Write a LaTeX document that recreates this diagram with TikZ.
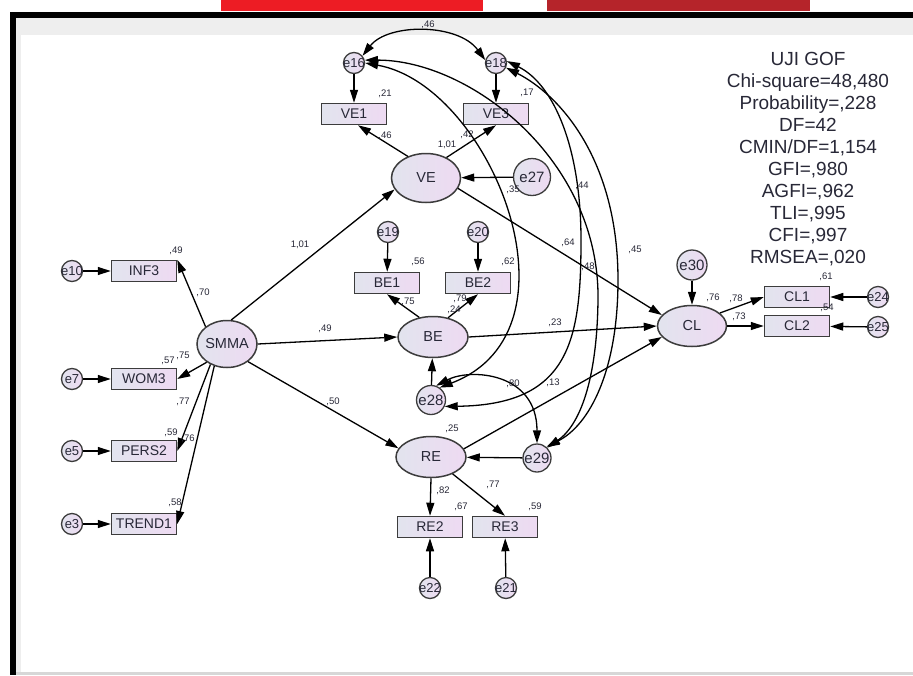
\documentclass[tikz,border=0pt]{standalone}
\usepackage{fontspec}
\setmainfont{Liberation Sans}
\usetikzlibrary{arrows.meta,shapes.geometric}

\definecolor{lft}{RGB}{226,228,238}
\definecolor{rgt}{RGB}{238,218,242}
\definecolor{edgec}{RGB}{60,60,60}
\definecolor{txt}{RGB}{40,40,55}
\definecolor{redA}{RGB}{237,28,36}
\definecolor{redB}{RGB}{181,36,42}
\definecolor{grayA}{RGB}{238,238,238}
\definecolor{grayB}{RGB}{215,215,215}

\tikzset{
  obs/.style={draw=edgec, line width=1.5pt, left color=lft, right color=rgt,
    minimum width=65pt, minimum height=21pt, inner sep=0pt,
    font=\fontsize{14}{14}\selectfont, text=txt},
  lat/.style={ellipse, draw=edgec, line width=1.5pt, left color=lft, right color=rgt,
    inner sep=-3pt, font=\fontsize{14.5}{14}\selectfont, text=txt},
  err/.style={circle, draw=edgec, line width=1.3pt, left color=lft, right color=rgt,
    minimum size=21pt, inner sep=-4pt, font=\fontsize{13}{13}\selectfont, text=txt},
  errb/.style={err, font=\fontsize{15}{15}\selectfont},
  arr/.style={-{Triangle[length=13pt,width=8pt]}, line width=1.3pt, draw=black},
  cov/.style={{Triangle[length=13pt,width=8pt]}-{Triangle[length=13pt,width=8pt]}, line width=1.3pt, draw=black},
  lab/.style={font=\fontsize{9.5}{10}\selectfont, text=txt, inner sep=0pt},
}

\begin{document}
\begin{tikzpicture}[x=1pt,y=-1pt]
\useasboundingbox (0,0) rectangle (913,675);
% frame
\fill[white] (0,0) rectangle (913,675);
\fill[redA] (221,0) rectangle (483,11);
\fill[redB] (547,0) rectangle (810,11);
\fill[black] (10,12) rectangle (913,18);
\fill[black] (10,12) rectangle (16,675);
\fill[grayA] (16,18) rectangle (913,35);
\fill[grayA] (16,18) rectangle (21,672);
\fill[grayB] (16,672) rectangle (913,675);

% observed / error nodes, left
\node[err] (e10) at (72,271) {e10};
\node[obs] (INF3) at (144,271) {INF3};
\node[err] (e7) at (72,379) {e7};
\node[obs] (WOM3) at (144,379) {WOM3};
\node[err] (e5) at (72,451) {e5};
\node[obs] (PERS2) at (144,451) {PERS2};
\node[err] (e3) at (72,524) {e3};
\node[obs] (TREND1) at (144,524) {TREND1};
\node[lat, minimum width=60pt, minimum height=47pt] (SMMA) at (227,344) {SMMA};

% VE block
\node[err] (e16) at (354,63) {e16};
\node[err] (e18) at (496,63) {e18};
\node[obs] (VE1) at (354,114) {VE1};
\node[obs] (VE3) at (496,114) {VE3};
\node[lat, minimum width=69pt, minimum height=49pt] (VE) at (426,178) {VE};
\node[errb, minimum size=37pt] (e27) at (532,177) {e27};

% BE block
\node[err] (e19) at (388,232) {e19};
\node[err] (e20) at (478,232) {e20};
\node[obs] (BE1) at (387,283) {BE1};
\node[obs] (BE2) at (478,283) {BE2};
\node[lat, minimum width=70pt, minimum height=41pt] (BE) at (433,337) {BE};
\node[errb, minimum size=29pt] (e28) at (431,400) {e28};

% RE block
\node[lat, minimum width=70pt, minimum height=41pt] (RE) at (431,457) {RE};
\node[errb, minimum size=28pt] (e29) at (537,458) {e29};
\node[obs] (RE2) at (430,527) {RE2};
\node[obs] (RE3) at (505,527) {RE3};
\node[err] (e22) at (430,588) {e22};
\node[err] (e21) at (506,588) {e21};

% CL block
\node[lat, minimum width=69pt, minimum height=41pt] (CL) at (692,326) {CL};
\node[errb, minimum size=30pt] (e30) at (692,265) {e30};
\node[obs] (CL1) at (797,297) {CL1};
\node[obs] (CL2) at (797,326) {CL2};
\node[err] (e24) at (878,297) {e24};
\node[err] (e25) at (878,327) {e25};

% GOF text
\node[font=\fontsize{19}{22}\selectfont, align=center, anchor=north, inner sep=0pt, text=txt] (gof) at (808,52)
 {UJI GOF\\Chi-square=48,480\\Probability=,228\\DF=42\\CMIN/DF=1,154\\GFI=,980\\AGFI=,962\\TLI=,995\\CFI=,997\\RMSEA=,020};

% straight arrows
\draw[arr] (e10) -- (INF3);
\draw[arr] (e7) -- (WOM3);
\draw[arr] (e5) -- (PERS2);
\draw[arr] (e3) -- (TREND1);
\draw[arr] (SMMA.141) -- (INF3.north east);
\draw[arr] (SMMA.222) -- (WOM3.east);
\draw[arr] (SMMA.231) -- (PERS2.east);
\draw[arr] (SMMA.240) -- (TREND1.east);
\draw[arr] (SMMA.80) -- (VE.200);
\draw[arr] (SMMA.east) -- (BE.west);
\draw[arr] (SMMA.-40) -- (RE.165);
\draw[arr] (VE.130) -- ([xshift=4pt]VE1.south);
\draw[arr] (VE.45) -- (VE3.south);
\draw[arr] (e16) -- (VE1);
\draw[arr] (e18) -- (VE3);
\draw[arr] (e27) -- (VE);
\draw[arr] (VE.-18) -- (CL.160);
\draw[arr] (BE.east) -- (CL.west);
\draw[arr] (RE.14) -- (CL.200);
\draw[arr] (e30) -- (CL);
\draw[arr] (CL.25) -- (CL1.west);
\draw[arr] (CL.east) -- (CL2.west);
\draw[arr] (e24) -- (CL1);
\draw[arr] (e25) -- (CL2);
\draw[arr] (e19) -- (BE1);
\draw[arr] (e20) -- (BE2);
\draw[arr] (BE.125) -- (BE1.south);
\draw[arr] (BE.52) -- (BE2.south);
\draw[arr] (e28) -- (BE);
\draw[arr] (e29) -- (RE);
\draw[arr] (RE.south) -- (RE2.north);
\draw[arr] (RE.-38) -- (RE3.north);
\draw[arr] (e22) -- (RE2);
\draw[arr] (e21) -- (RE3);

% covariances
\draw[cov] (e16.40) .. controls (388,23) and (458,23) .. (e18.165);
\draw[cov] (e16.0) .. controls (490,85) and (590,330) .. (e28.55);
\draw[cov] (e18.10) .. controls (555,85) and (581,150) .. (581,240) .. controls (581,340) and (570,405) .. (e28.-25);
\draw[cov] (e16.15) .. controls (470,60) and (600,160) .. (598,300) .. controls (597,380) and (580,425) .. (e29.45);
\draw[cov] (e18.-25) .. controls (560,95) and (618,160) .. (618,280) .. controls (618,370) and (590,425) .. (e29.50);
\draw[cov] (e28.70) .. controls (470,368) and (537,372) .. (e29.north);

% labels
\node[lab] (l1) at (428,25) {,46};
\node[lab] (l2) at (385,94) {,21};
\node[lab] (l3) at (527,93) {,17};
\node[lab] (l4) at (385,136) {,46};
\node[lab] (l5) at (447,145) {1,01};
\node[lab] (l6) at (467,135) {,42};
\node[lab] (l7) at (513,190) {,35};
\node[lab] (l8) at (582,186) {,44};
\node[lab] (l9) at (418,262) {,56};
\node[lab] (l10) at (508,262) {,62};
\node[lab] (l11) at (408,302) {,75};
\node[lab] (l12) at (460,299) {,79};
\node[lab] (l13) at (454,310) {,24};
\node[lab] (l14) at (568,243) {,64};
\node[lab] (l15) at (588,267) {,48};
\node[lab] (l16) at (635,250) {,45};
\node[lab] (l17) at (555,323) {,23};
\node[lab] (l18) at (513,384) {,80};
\node[lab] (l19) at (553,383) {,13};
\node[lab] (l20) at (452,429) {,25};
\node[lab] (l21) at (443,491) {,82};
\node[lab] (l22) at (493,485) {,77};
\node[lab] (l23) at (461,507) {,67};
\node[lab] (l24) at (535,507) {,59};
\node[lab] (l25) at (713,298) {,76};
\node[lab] (l26) at (736,299) {,78};
\node[lab] (l27) at (739,317) {,73};
\node[lab] (l28) at (826,277) {,61};
\node[lab] (l29) at (827,308) {,54};
\node[lab] (l30) at (176,251) {,49};
\node[lab] (l31) at (203,293) {,70};
\node[lab] (l32) at (168,361) {,57};
\node[lab] (l33) at (183,356) {,75};
\node[lab] (l34) at (183,402) {,77};
\node[lab] (l35) at (171,433) {,59};
\node[lab] (l36) at (188,439) {,76};
\node[lab] (l37) at (175,503) {,58};
\node[lab] (l38) at (300,245) {1,01};
\node[lab] (l39) at (325,329) {,49};
\node[lab] (l40) at (333,402) {,50};
\end{tikzpicture}
\end{document}
